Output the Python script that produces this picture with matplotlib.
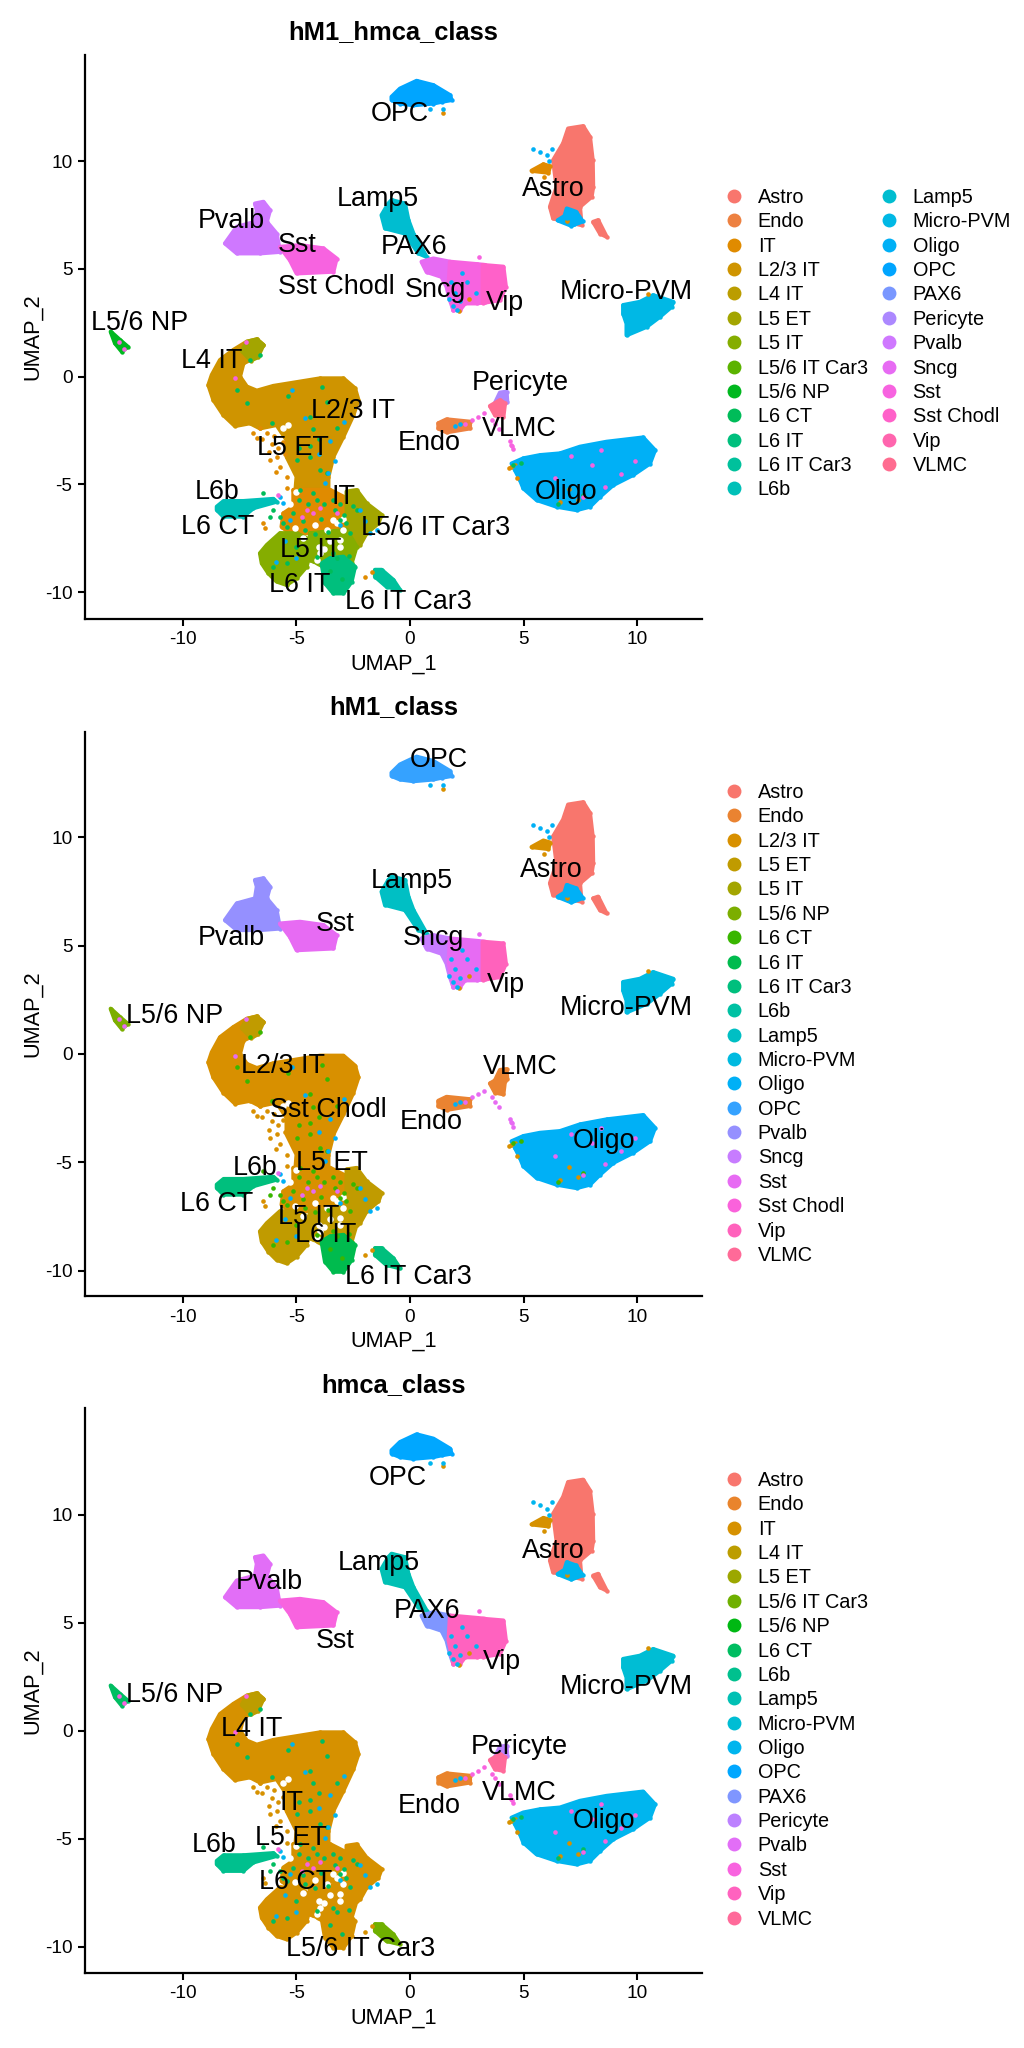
import numpy as np
import matplotlib
matplotlib.use('Agg')
import matplotlib.pyplot as plt
from matplotlib.lines import Line2D

plt.rcParams['font.family'] = ['Liberation Sans', 'DejaVu Sans']
plt.rcParams['axes.unicode_minus'] = False

# Class levels of each panel, legend order
classes_1 = ['Astro', 'Endo', 'IT', 'L2/3 IT', 'L4 IT', 'L5 ET', 'L5 IT', 'L5/6 IT Car3', 'L5/6 NP',
             'L6 CT', 'L6 IT', 'L6 IT Car3', 'L6b', 'Lamp5', 'Micro-PVM', 'Oligo', 'OPC', 'PAX6',
             'Pericyte', 'Pvalb', 'Sncg', 'Sst', 'Sst Chodl', 'Vip', 'VLMC']
classes_2 = ['Astro', 'Endo', 'L2/3 IT', 'L5 ET', 'L5 IT', 'L5/6 NP', 'L6 CT', 'L6 IT', 'L6 IT Car3',
             'L6b', 'Lamp5', 'Micro-PVM', 'Oligo', 'OPC', 'Pvalb', 'Sncg', 'Sst', 'Sst Chodl', 'Vip', 'VLMC']
classes_3 = ['Astro', 'Endo', 'IT', 'L4 IT', 'L5 ET', 'L5/6 IT Car3', 'L5/6 NP', 'L6 CT', 'L6b', 'Lamp5',
             'Micro-PVM', 'Oligo', 'OPC', 'PAX6', 'Pericyte', 'Pvalb', 'Sst', 'Vip', 'VLMC']

# Cluster outlines (same embedding in all panels)
it_x = [-6.45, -6.74, -7.18, -7.77, -8.36, -8.72, -8.87, -8.65, -8.21, -7.70, -7.04, -6.6, -5.87, -5.43,
        -5.43, -4.99, -5.06, -3.59, -3.59, -3.37, -2.93, -2.49, -2.27, -2.42, -2.93, -3.96, -5.13, -6.01,
        -6.74, -7.18, -7.48, -7.33, -6.89]
it_y = [1.47, 1.73, 1.62, 1.24, 0.77, 0.08, -0.39, -1.08, -1.78, -2.29, -2.16, -2.4, -2.24, -2.94,
        -3.71, -4.64, -5.56, -5.56, -4.64, -3.71, -2.78, -1.78, -1.08, -0.54, -0.08, -0.08, -0.28, -0.43,
        -0.65, -0.46, 0.0, 0.62, 0.85]
tip_x = [-6.45, -6.74, -7.18, -7.4, -7.0, -6.7]
tip_y = [1.47, 1.73, 1.62, 1.2, 0.75, 0.9]
center_x = [-5.13, -3.52, -2.64, -2.64, -3.67, -4.25, -5.28, -5.65, -5.57, -5.13]
center_y = [-5.25, -5.25, -5.72, -7.11, -6.96, -7.26, -7.26, -6.96, -6.34, -6.03]
lobe_r_x = [-2.79, -2.35, -1.91, -1.25, -1.39, -1.91, -2.2, -2.49, -2.79, -2.79]
lobe_r_y = [-5.33, -5.26, -5.88, -6.41, -6.8, -7.26, -7.81, -7.97, -7.73, -6.49]
lobe_l_x = [-5.72, -6.3, -6.6, -6.52, -6.23, -5.87, -5.43, -4.99, -4.55, -4.4, -4.4, -4.99]
lobe_l_y = [-7.26, -7.81, -8.19, -8.66, -9.12, -9.5, -9.66, -9.35, -8.81, -8.19, -7.57, -7.26]
strip_x = [-4.4, -2.79, -2.35, -2.57, -3.81, -4.4]
strip_y = [-7.26, -7.11, -7.88, -8.66, -8.81, -8.5]
lobe_b_x = [-3.89, -3.74, -3.37, -2.93, -2.57, -2.42, -2.93, -3.52]
lobe_b_y = [-8.66, -9.58, -10.05, -10.05, -9.51, -8.81, -8.35, -8.42]
l6b_x = [-8.5, -8.2, -7.33, -6.01, -5.87, -6.89, -7.33, -8.21, -8.5]
l6b_y = [-6.03, -5.77, -5.77, -5.67, -5.8, -6.1, -6.49, -6.49, -6.18]
car3_x = [-1.54, -1.25, -0.73, -0.44, -1.03, -1.54]
car3_y = [-8.96, -8.96, -9.43, -9.89, -9.74, -9.27]
np_x = [-13.17, -12.76, -12.42, -12.68, -12.98]
np_y = [2.09, 1.7, 1.39, 1.16, 1.55]
endo_x = [1.25, 1.61, 2.64, 2.64, 1.61, 1.25]
endo_y = [-2.16, -1.98, -2.09, -2.4, -2.58, -2.4]
opc_x = [-0.81, -0.44, 0.29, 1.03, 1.76, 1.83, 1.39, 1.03, 0.15, -0.44, -0.81]
opc_y = [12.98, 13.36, 13.72, 13.52, 13.06, 12.83, 12.75, 12.67, 12.59, 12.67, 12.83]
pvalb_x = [-6.82, -6.45, -6.16, -6.30, -5.87, -5.72, -6.6, -7.62, -8.14, -7.62, -6.82, -6.74]
pvalb_y = [8.03, 8.11, 7.72, 7.18, 6.64, 5.79, 5.72, 5.72, 6.18, 6.95, 7.18, 7.72]
sst_x = [-5.72, -4.84, -3.81, -3.23, -3.37, -4.99, -5.28]
sst_y = [6.02, 6.1, 5.95, 5.48, 4.87, 4.79, 5.4]
lamp_x = [-0.81, -0.22, -0.07, 0.15, 0.73, 0.37, -0.22, -1.1, -1.25, -0.95]
lamp_y = [8.19, 8.03, 7.26, 6.64, 5.56, 5.72, 6.64, 6.88, 7.49, 8.03]
sncg_x = [0.51, 1.03, 1.76, 1.9, 1.91, 1.76, 1.61, 1.39, 0.73]
sncg_y = [5.33, 5.48, 5.33, 4.2, 3.09, 3.55, 4.17, 4.63, 4.86]
mid_x = [1.76, 2.93, 3.3, 3.3, 2.93, 2.42, 2.2, 1.91, 1.7]
mid_y = [5.33, 5.22, 5.18, 3.45, 3.4, 3.4, 3.09, 3.09, 4.2]
vip_x = [3.2, 4.11, 4.22, 3.96, 3.2]
vip_y = [5.18, 5.1, 4.17, 3.55, 3.42]
astro_x = [6.96, 7.62, 7.92, 8.04, 8.06, 7.99, 7.48, 7.55, 6.89, 6.3, 6.16, 6.45, 6.3, 6.74]
astro_y = [11.51, 11.62, 11.12, 10.04, 8.8, 8.34, 7.88, 7.03, 7.18, 7.34, 7.88, 8.8, 10.04, 10.82]
astro_low_x = [6.9, 7.3, 7.6, 7.1, 6.5, 6.8]
astro_low_y = [7.8, 7.65, 7.2, 7.0, 7.25, 7.45]
tail_x = [8.06, 8.28, 8.65, 8.36]
tail_y = [7.18, 7.26, 6.49, 6.64]
bump_x = [5.35, 5.87, 6.16, 6.09]
bump_y = [9.55, 9.85, 9.76, 9.46]
micro_x = [9.38, 10.12, 10.7, 11.58, 11.51, 11.0, 10.41, 9.53, 9.53, 9.38]
micro_y = [3.32, 3.47, 3.78, 3.47, 3.24, 2.78, 2.31, 1.92, 2.46, 2.93]
peri_x = [3.96, 4.25, 4.28, 3.96, 3.75]
peri_y = [-0.74, -0.7, -1.16, -1.4, -1.2]
vlmc_x = [3.52, 3.96, 4.18, 4.11, 3.74]
vlmc_y = [-1.36, -1.09, -1.24, -1.86, -1.78]
oligo_x = [4.47, 4.99, 5.72, 6.6, 7.48, 8.65, 10.26, 10.78, 10.56, 9.82, 8.94, 8.36, 7.92, 7.33, 6.45, 5.57,
           4.99, 4.84, 4.62]
oligo_y = [-4.03, -3.79, -3.64, -3.56, -3.25, -3.02, -2.82, -3.41, -4.03, -4.56, -5.03, -5.57, -6.03, -6.19,
           -6.03, -5.72, -5.18, -4.79, -4.33]

# Loose cells on top of the clusters
green_x = [-3.89, -5.35, -4.4, -3.23, -3.67, -4.25, -6.09, -4.99, -4.4, -3.96, -3.67, -4.84, -4.25, -5.13,
           -5.43, -3.08, -2.35, -2.64, -3.37, -5.43, -6.01, -4.1, -7.18, -7.62, -6.6, -7.04, -6.45, -6.16,
           -6.01, -5.72, -5.57, -4.9, -4.5, -4.1, -3.8, -3.4, -3.1, -2.9, -4.7, -3.9, -3.3, -2.8, -2.5, -4.6,
           -4.2, -3.6, -3.2, -2.7, -5.0, -3.5, -3.0, -4.9, -4.4, -4.0, 4.55, 4.9, 6.5, 7.6]
green_y = [-0.49, -0.9, -1.85, -2.4, -1.16, -2.44, -2.16, -3.86, -3.71, -4.33, -4.48, -5.25, -5.41, -6.34,
           -6.96, -6.65, -6.18, -7.26, -8.19, -8.66, -8.81, -8.35, -1.24, -0.62, 1.0, 0.77, -5.38, -6.49,
           -6.18, -6.49, -6.8, -5.7, -5.9, -5.7, -5.9, -5.7, -5.9, -6.4, -6.7, -6.6, -6.2, -6.8, -6.0, -7.1,
           -7.3, -7.2, -8.4, -8.3, -7.9, -9.0, -9.4, -3.3, -3.2, -2.9, -4.1, -4.0, -5.9, -5.5]
blue_x = [-3.59, -3.74, -5.72, -5.57, -5.28, -1.76, -1.47, 5.43, 5.72, 6.01, 6.23, 6.1, 1.44, 0.88, 2.0, 2.2,
          4.7, 5.0, 1.9, -3.5, -4.6, -2.9, -3.1, -5.2, 1.8, 2.0, 2.2, 2.5, 2.9, 2.3, 1.7, 2.05, -4.0, -3.3,
          -2.2, -2.0, -5.0, -5.9, -5.5, 6.9, 7.2]
blue_y = [-4.48, -4.95, -5.56, -5.87, -6.65, -7.26, -7.11, 10.58, 10.43, 10.27, 10.58, 10.0, 12.41, 12.41,
          -2.3, -2.2, -4.2, -4.6, 3.3, -3.0, -1.9, -2.1, -6.9, -0.6, 4.4, 3.9, 3.5, 4.4, 3.9, 4.8, 3.6, 3.1,
          -3.6, -3.9, -6.2, -6.7, -8.4, -8.6, -7.6, 7.35, 7.1]
pink_x = [-3.96, -4.77, -4.25, -4.55, -5.79, -3.23, -7.7, -7.23, -12.8, -12.6, 8.0, 9.3, 6.4, 2.4, 7.1, 9.9,
          8.4, 4.5, 2.75, 3.0, 3.25, 3.6, 3.75, 3.9, 4.4, 4.45, 4.55, 3.05, 8.6, 7.6]
pink_y = [-6.1, -6.49, -6.34, -6.18, -5.49, -6.34, -0.08, 1.62, 1.6, 1.3, -4.1, -4.5, -4.7, -2.2, -3.7, -3.9,
          -3.4, -3.2, -2.0, -1.85, -1.7, -2.0, -2.2, -2.45, -3.0, -3.15, -3.35, 5.55, -5.1, -5.6]
orange_x = [-6.89, -6.6, -6.3, -6.16, -5.87, -5.72, -5.43, -6.45, -6.38, -1.98, -1.69, -5.43, 10.48, 5.9,
            4.45, 4.6, 1.44, -6.75, -6.5, -6.0, -6.05, -5.8, -5.6, -5.5, -6.2, -5.9, 4.35, 4.7, 7.0, 7.4, 6.6,
            2.15, 2.6, 6.9]
orange_y = [-2.63, -2.4, -2.63, -3.86, -3.71, -4.17, -4.64, -6.8, -7.03, -9.3, -9.04, -5.18, 3.82, 9.24,
            -4.2, -4.1, 12.25, -2.85, -2.9, -2.75, -3.1, -3.3, -3.05, -3.6, -3.5, -4.4, -4.25, -4.7, -5.2, -5.7,
            -5.8, 3.05, 3.6, 7.2]
gap_x = [-5.57, -5.35, -3.67, -3.23, -2.93, -3.37, -4.1, -4.25, -3.96, -3.08, -3.5, -4.7, -5.05, -4.0, -2.95,
         -4.2, -5.0, -5.3, -3.1, -3.8]
gap_y = [-2.4, -2.24, -7.11, -6.8, -7.11, -6.65, -8.5, -8.81, -8.19, -7.57, -7.6, -7.5, -7.0, -7.9, -6.6,
         -6.9, -5.35, -5.9, -7.9, -8.0]

# Which class colours each outline in the three panels
outlines = [(it_x, it_y), (tip_x, tip_y), (center_x, center_y), (lobe_r_x, lobe_r_y), (lobe_l_x, lobe_l_y),
            (strip_x, strip_y), (lobe_b_x, lobe_b_y), (l6b_x, l6b_y), (car3_x, car3_y), (np_x, np_y),
            (endo_x, endo_y), (opc_x, opc_y), (pvalb_x, pvalb_y), (sst_x, sst_y), (lamp_x, lamp_y),
            (sncg_x, sncg_y), (mid_x, mid_y), (vip_x, vip_y), (astro_x, astro_y), (astro_low_x, astro_low_y),
            (tail_x, tail_y), (bump_x, bump_y), (micro_x, micro_y), (peri_x, peri_y), (vlmc_x, vlmc_y),
            (oligo_x, oligo_y)]
fill_1 = ['L2/3 IT', 'L5 ET', 'IT', 'L5 ET', 'L5 IT', 'L5 IT', 'L6 IT', 'L6b', 'L6 IT Car3', 'L5/6 NP',
          'Endo', 'OPC', 'Pvalb', 'Sst', 'Lamp5', 'Sncg', 'Sst', 'Sst Chodl', 'Astro', 'Oligo',
          'Astro', 'IT', 'Micro-PVM', 'Pericyte', 'VLMC', 'Oligo']
fill_2 = ['L2/3 IT', 'L5 ET', 'L2/3 IT', 'L5 ET', 'L5 ET', 'L5 ET', 'L6 IT', 'L6 IT Car3', 'L6 IT Car3', 'L5/6 NP',
          'Endo', 'OPC', 'Pvalb', 'Sst', 'Lamp5', 'Sncg', 'Sst', 'Vip', 'Astro', 'Oligo',
          'Astro', 'L2/3 IT', 'Micro-PVM', 'Endo', 'Endo', 'Oligo']
fill_3 = ['IT', 'L4 IT', 'IT', 'IT', 'IT', 'IT', 'IT', 'L6b', 'L5/6 IT Car3', 'L6 CT',
          'Endo', 'OPC', 'Pvalb', 'Sst', 'Lamp5', 'PAX6', 'Vip', 'Vip', 'Astro', 'Oligo',
          'Astro', 'IT', 'Micro-PVM', 'Pericyte', 'VLMC', 'Oligo']

# Label text and places
labels_1 = ['OPC', 'Lamp5', 'Pvalb', 'Sst', 'Sst Chodl', 'PAX6', 'Sncg', 'Astro', 'Vip', 'Micro-PVM', 'Pericyte',
            'VLMC', 'Endo', 'Oligo', 'L5/6 NP', 'L4 IT', 'L2/3 IT', 'L5 ET', 'L6b', 'IT', 'L6 CT',
            'L5/6 IT Car3', 'L5 IT', 'L6 IT', 'L6 IT Car3']
label_x_1 = [-0.44, -1.42, -7.84, -4.96, -3.26, 0.18, 1.14, 6.3, 4.18, 9.5, 4.87, 4.79, 0.85, 6.89, -11.91, -8.72,
             -2.49, -5.16, -8.48, -2.93, -8.48, 1.14, -4.37, -4.84, -0.07]
label_y_1 = [12.18, 8.22, 7.23, 6.1, 4.17, 6.02, 4.04, 8.72, 3.43, 3.94, -0.28, -2.43, -3.06, -5.37, 2.5, 0.73,
             -1.59, -3.32, -5.33, -5.56, -6.95, -7.03, -8.04, -9.66, -10.43]
labels_2 = ['OPC', 'Lamp5', 'Pvalb', 'Sst', 'Sncg', 'Vip', 'Astro', 'Micro-PVM', 'VLMC', 'Endo', 'Oligo', 'L5/6 NP',
            'L2/3 IT', 'Sst Chodl', 'L5 ET', 'L6b', 'L6 CT', 'L5 IT', 'L6 IT', 'L6 IT Car3']
label_x_2 = [1.28, 0.1, -7.86, -3.3, 1.04, 4.22, 6.24, 9.54, 4.86, 0.92, 8.55, -10.38, -5.57, -3.6, -3.45, -6.82,
             -8.5, -4.47, -3.71, -0.07]
label_y_2 = [13.57, 8.0, 5.33, 6.0, 5.33, 3.2, 8.48, 2.12, -0.6, -3.15, -4.0, 1.75, -0.55, -2.58, -5.05, -5.28,
             -6.92, -7.51, -8.35, -10.28]
labels_3 = ['OPC', 'Lamp5', 'Pvalb', 'PAX6', 'Sst', 'Vip', 'Astro', 'Micro-PVM', 'Pericyte', 'VLMC', 'Endo', 'Oligo',
            'L5/6 NP', 'L4 IT', 'IT', 'L5 ET', 'L6b', 'L6 CT', 'L5/6 IT Car3']
label_x_3 = [-0.52, -1.39, -6.18, 0.75, -3.3, 4.05, 6.3, 9.54, 4.8, 4.8, 0.87, 8.55, -10.38, -6.95, -5.2, -5.23,
             -8.62, -5.01, -2.16]
label_y_3 = [11.72, 7.78, 6.87, 5.53, 4.14, 3.17, 8.32, 2.02, -0.77, -2.89, -3.5, -4.16, 1.65, 0.08, -3.35, -4.97,
             -5.28, -7.02, -10.09]


def hue_colors(n):
    # ggplot default hue palette: hcl(h = 15 + 360 i / n, c = 100, l = 65)
    h = np.deg2rad(15 + 360 * np.arange(n) / n)
    L = 65.0
    u = 100 * np.cos(h) / (13 * L) + 0.1978398
    v = 100 * np.sin(h) / (13 * L) + 0.4683363
    Y = np.full(n, ((L + 16) / 116) ** 3)
    X = 9 * Y * u / (4 * v)
    Z = -X / 3 - 5 * Y + 3 * Y / v
    m = np.array([[3.240479, -1.537150, -0.498535], [-0.969256, 1.875992, 0.041556], [0.055648, -0.204043, 1.057311]])
    rgb = np.clip(m @ np.vstack([X, Y, Z]), 0, 1)
    rgb = np.where(rgb > 0.00304, 1.055 * rgb ** (1 / 2.4) - 0.055, 12.92 * rgb)
    return [tuple(c) for c in np.clip(rgb, 0, 1).T]


W, H = 1024.0, 2048.0
fig = plt.figure(figsize=(10.24, 20.48), dpi=100)


def draw_panel(title, classes, fills, labels, lx, ly, top, bottom, ylim, title_y, legend_y, green, blue, pink, orange, ncol):
    ax = fig.add_axes([85 / W, 1 - bottom / H, 617 / W, (bottom - top) / H])
    pal = dict(zip(classes, hue_colors(len(classes))))
    for (ox, oy), name in zip(outlines, fills):
        ax.fill(ox, oy, color=pal[name], lw=3, joinstyle='round', zorder=2)
        ax.scatter(ox, oy, s=10, color=pal[name], lw=0, zorder=2)
    ax.scatter(gap_x, gap_y, s=22, color='white', lw=0, zorder=3)
    ax.scatter(orange_x, orange_y, s=11, color=pal[orange], lw=0, zorder=4)
    ax.scatter(green_x, green_y, s=11, color=pal[green], lw=0, zorder=4)
    ax.scatter(blue_x, blue_y, s=11, color=pal[blue], lw=0, zorder=4)
    ax.scatter(pink_x, pink_y, s=11, color=pal[pink], lw=0, zorder=4)
    for t, x, y in zip(labels, lx, ly):
        ax.text(x, y, t, fontsize=19.4, ha='center', va='center', color='black', zorder=5)
    ax.set_xlim(-14.3, 12.85)
    ax.set_ylim(*ylim)
    ax.set_xticks([-10, -5, 0, 5, 10])
    ax.set_yticks([-10, -5, 0, 5, 10])
    ax.tick_params(labelsize=13.7, length=5, width=1.5, pad=4, color='black')
    ax.spines[['top', 'right']].set_visible(False)
    ax.spines[['left', 'bottom']].set_linewidth(1.6)
    ax.set_xlabel('UMAP_1', fontsize=15.7, labelpad=3.5)
    ax.set_ylabel('UMAP_2', fontsize=15.7, labelpad=1.5)
    fig.text(393.5 / W, 1 - title_y / H, title, fontsize=18.4, fontweight='bold', ha='center', va='center')
    handles = [Line2D([], [], ls='', marker='o', ms=10, mew=0, color=pal[c], label=c) for c in classes]
    fig.legend(handles=handles, loc='upper left', bbox_to_anchor=(724 / W, 1 - legend_y / H), frameon=False,
               ncol=ncol, fontsize=14.3, borderpad=0, borderaxespad=0, labelspacing=0.27, handlelength=1,
               handletextpad=0.7, columnspacing=0.55)


draw_panel('hM1_hmca_class', classes_1, fill_1, labels_1, label_x_1, label_y_1, 55, 619, (-11.24, 14.92), 32, 188,
           'L6 CT', 'Oligo', 'Sst', 'IT', 2)
draw_panel('hM1_class', classes_2, fill_2, labels_2, label_x_2, label_y_2, 732, 1296, (-11.17, 14.86), 707, 783,
           'L6 CT', 'Oligo', 'Sst', 'L2/3 IT', 1)
draw_panel('hmca_class', classes_3, fill_3, labels_3, label_x_3, label_y_3, 1408, 1973, (-11.22, 14.94), 1385, 1471,
           'L6 CT', 'Oligo', 'Sst', 'IT', 1)

fig.savefig('out.png', dpi=100)
